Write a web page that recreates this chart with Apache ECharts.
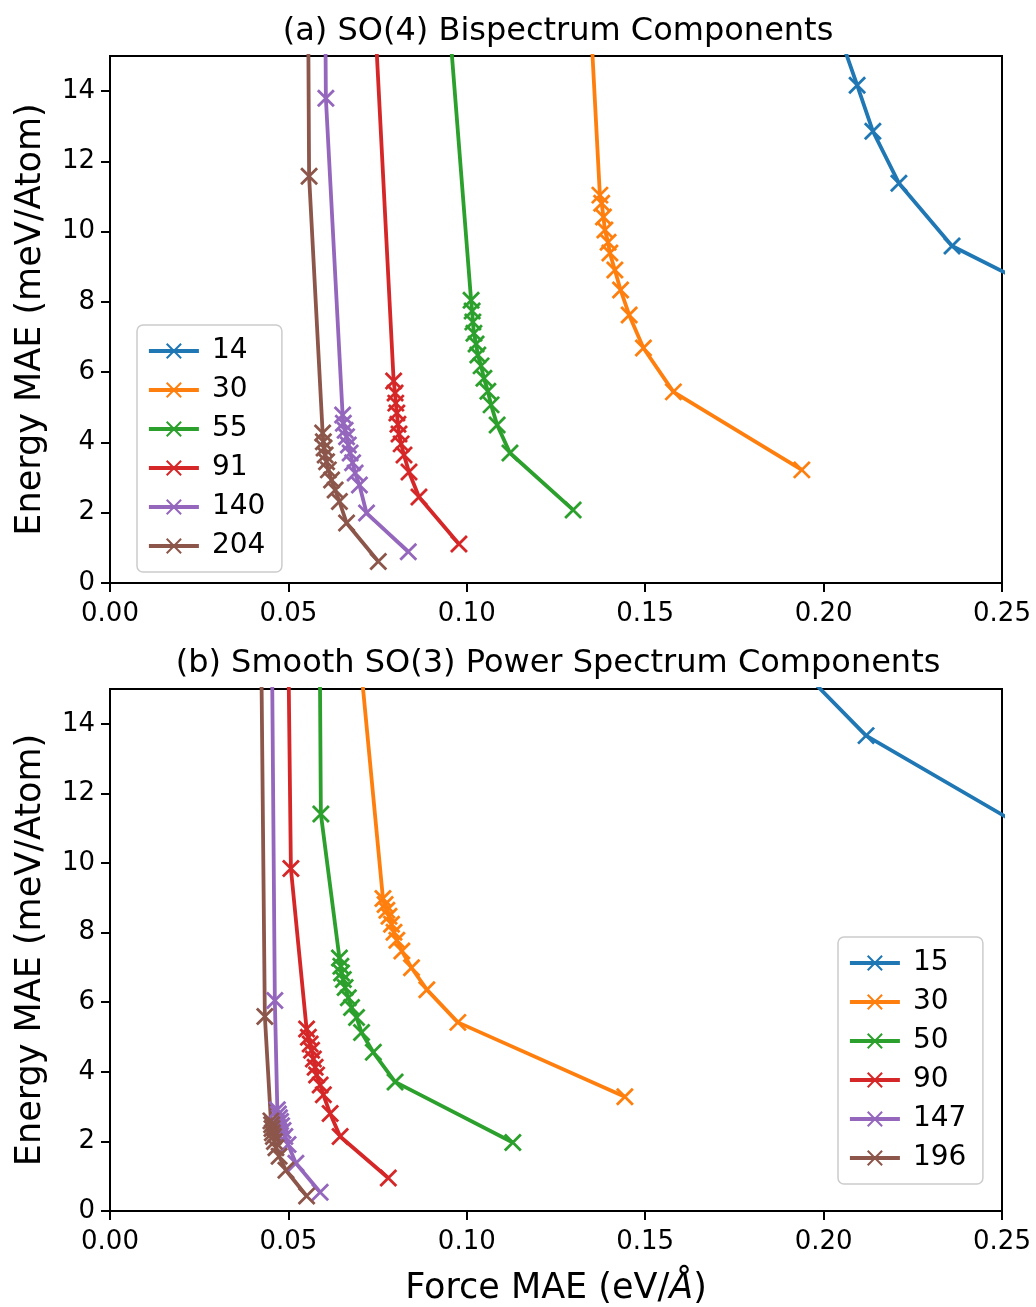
<!DOCTYPE html>
<html>
<head>
<meta charset="utf-8">
<script src="https://cdn.jsdelivr.net/npm/echarts@6/dist/echarts.min.js"></script>
<style>html,body{margin:0;padding:0;background:#fff;}#c{width:1036px;height:1307px;}</style>
</head>
<body>
<div id="c"></div>
<script>
// ---- data (Force MAE eV/Å, Energy MAE meV/Atom) ----
// (a) SO(4) bispectrum components
const namesA = ['14', '30', '55', '91', '140', '204'];
const a14 = [[0.2031,16.0],[0.2094,14.17],[0.2138,12.86],[0.2211,11.38],[0.2360,9.59],[0.275,7.6]];
const a30 = [[0.1342,17.0],[0.1373,11.04],[0.1378,10.81],[0.1383,10.42],[0.1387,10.05],[0.1396,9.70],[0.1401,9.39],[0.1415,8.91],[0.1431,8.34],[0.1455,7.63],[0.1495,6.69],[0.1579,5.44],[0.1939,3.22]];
const a55 = [[0.0943,17.0],[0.1012,8.05],[0.1015,7.74],[0.1017,7.43],[0.1020,7.11],[0.1026,6.80],[0.1031,6.49],[0.1040,6.18],[0.1048,5.83],[0.1059,5.46],[0.1068,5.07],[0.1085,4.50],[0.1121,3.70],[0.1298,2.08]];
const a91 = [[0.0738,17.0],[0.0795,5.75],[0.0799,5.41],[0.0801,5.12],[0.0804,4.84],[0.0807,4.52],[0.0810,4.24],[0.0816,3.96],[0.0824,3.64],[0.0838,3.16],[0.0866,2.45],[0.0978,1.11]];
const a140 = [[0.0603,17.0],[0.0605,13.80],[0.0652,4.78],[0.0654,4.55],[0.0659,4.35],[0.0663,4.16],[0.0668,3.93],[0.0673,3.70],[0.0680,3.42],[0.0687,3.13],[0.0699,2.79],[0.0719,1.99],[0.0836,0.89]];
const a204 = [[0.0555,17.0],[0.0558,11.58],[0.0596,4.27],[0.0598,4.02],[0.0600,3.84],[0.0603,3.64],[0.0607,3.45],[0.0612,3.22],[0.0621,2.93],[0.0631,2.65],[0.0643,2.32],[0.0663,1.71],[0.0752,0.61]];
// (b) Smooth SO(3) power spectrum components
const namesB = ['15', '30', '50', '90', '147', '196'];
const b15 = [[0.190,15.95],[0.2119,13.66],[0.275,9.9]];
const b30 = [[0.0700,16.0],[0.0765,8.98],[0.0771,8.81],[0.0776,8.64],[0.0782,8.47],[0.0789,8.24],[0.0796,8.01],[0.0804,7.78],[0.0818,7.47],[0.0845,6.99],[0.0888,6.36],[0.0975,5.42],[0.1443,3.28]];
const b50 = [[0.0588,16.0],[0.0591,11.41],[0.0643,7.27],[0.0647,7.03],[0.0649,6.84],[0.0654,6.65],[0.0659,6.42],[0.0668,6.13],[0.0677,5.85],[0.0691,5.56],[0.0705,5.13],[0.0738,4.56],[0.0799,3.71],[0.1129,1.97]];
const b90 = [[0.0500,16.0],[0.0507,9.84],[0.0551,5.23],[0.0556,4.99],[0.0561,4.80],[0.0565,4.62],[0.0570,4.37],[0.0575,4.13],[0.0579,3.91],[0.0589,3.62],[0.0598,3.34],[0.0617,2.80],[0.0645,2.14],[0.0780,0.95]];
const b147 = [[0.0454,16.0],[0.0462,6.05],[0.0469,2.91],[0.0472,2.79],[0.0475,2.68],[0.0478,2.57],[0.0481,2.45],[0.0485,2.31],[0.0490,2.14],[0.0499,1.91],[0.0521,1.37],[0.0589,0.54]];
const b196 = [[0.0424,16.0],[0.0434,5.59],[0.0451,2.59],[0.0453,2.48],[0.0454,2.37],[0.0455,2.25],[0.0458,2.14],[0.0461,2.00],[0.0465,1.82],[0.0474,1.57],[0.0493,1.17],[0.0551,0.43]];

const xTicks = [0, 0.05, 0.10, 0.15, 0.20, 0.25];
const titleA = '(a) SO(4) Bispectrum Components';
const titleB = '(b) Smooth SO(3) Power Spectrum Components';
const yName = 'Energy MAE (meV/Atom)';

// ---- styling ----
const colors = ['#1f77b4', '#ff7f0e', '#2ca02c', '#d62728', '#9467bd', '#8c564b'];
const FONT = 'DejaVu Sans';
const X_SYMBOL = 'path://M0,0L10,10M10,0L0,10';
const LW = 3.8;

function mkSeries(name, data, idx, gi) {
  const c = colors[idx];
  return {
    type: 'line', name: name, data: data,
    xAxisIndex: gi, yAxisIndex: gi,
    symbol: X_SYMBOL, symbolSize: 16, showAllSymbol: true,
    lineStyle: { color: c, width: LW },
    itemStyle: { color: c, borderColor: c, borderWidth: 2.8 },
    emphasis: { disabled: true },
    animation: false, clip: true
  };
}

function xAxis(gi, withName) {
  return {
    type: 'value', gridIndex: gi, min: xTicks[0], max: xTicks[xTicks.length - 1], interval: 0.05,
    axisLine: { show: true, onZero: false, lineStyle: { color: '#000', width: 2 } },
    axisTick: { show: true, length: 9, lineStyle: { color: '#000', width: 2 } },
    axisLabel: { fontFamily: FONT, fontSize: 26, color: '#000', margin: 18, formatter: v => v.toFixed(2) },
    splitLine: { show: false },
    name: withName ? 'Force MAE (eV/{i|Å})' : '',
    nameLocation: 'middle', nameGap: 60,
    nameTextStyle: { fontFamily: FONT, fontSize: 35, color: '#000', rich: { i: { fontFamily: FONT, fontSize: 35, fontStyle: 'italic', color: '#000' } } }
  };
}
function yAxis(gi) {
  return {
    type: 'value', gridIndex: gi, min: 0, max: 15, interval: 2,
    axisLine: { show: true, onZero: false, lineStyle: { color: '#000', width: 2 } },
    axisTick: { show: true, length: 9, lineStyle: { color: '#000', width: 2 } },
    axisLabel: { fontFamily: FONT, fontSize: 26, color: '#000', margin: 15, showMaxLabel: false },
    splitLine: { show: false },
    name: yName, nameLocation: 'middle', nameGap: 62,
    nameTextStyle: { fontFamily: FONT, fontSize: 35, color: '#000' }
  };
}
function legend(names, left, top) {
  return {
    data: names, orient: 'vertical', left: left, top: top,
    itemWidth: 50, itemHeight: 18, itemGap: 11,
    padding: [12, 12, 12, 10],
    width: 124,
    borderColor: '#cccccc', borderWidth: 1.5, borderRadius: 6,
    backgroundColor: 'rgba(255,255,255,0.8)',
    lineStyle: { width: LW },
    textStyle: { fontFamily: FONT, fontSize: 28, color: '#000', lineHeight: 28, padding: [0, 0, 0, 8], width: 58 },
    selectedMode: false
  };
}

const allA = [a14, a30, a55, a91, a140, a204];
const allB = [b15, b30, b50, b90, b147, b196];
const series = [];
allA.forEach((d, i) => series.push(mkSeries(namesA[i], d, i, 0)));
allB.forEach((d, i) => series.push(mkSeries(namesB[i], d, i, 1)));

const chart = echarts.init(document.getElementById('c'), null, { renderer: 'canvas' });
chart.setOption({
  animation: false,
  backgroundColor: '#fff',
  textStyle: { fontFamily: FONT },
  title: [
    { text: titleA, left: 553, top: 11, textAlign: 'center', textStyle: { fontFamily: FONT, fontSize: 32, fontWeight: 'normal', color: '#000' } },
    { text: titleB, left: 553, top: 643, textAlign: 'center', textStyle: { fontFamily: FONT, fontSize: 32, fontWeight: 'normal', color: '#000' } }
  ],
  grid: [
    { left: 110, top: 56, width: 892, height: 527, show: true, borderColor: '#000', borderWidth: 2, backgroundColor: 'transparent' },
    { left: 110, top: 689, width: 892, height: 526, show: true, borderColor: '#000', borderWidth: 2, backgroundColor: 'transparent' }
  ],
  xAxis: [xAxis(0, false), xAxis(1, true)],
  yAxis: [yAxis(0), yAxis(1)],
  legend: [legend(namesA, 137, 325), legend(namesB, 838, 937)],
  series: series
});
</script>
</body>
</html>
